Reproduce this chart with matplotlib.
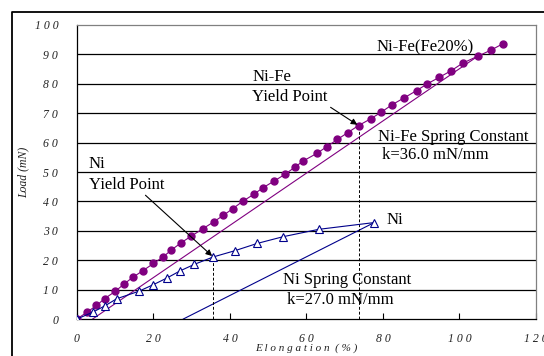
import matplotlib
matplotlib.use("Agg")
import matplotlib.pyplot as plt
from matplotlib.lines import Line2D

# Ni-Fe (Fe20%) load curve
nife_x = [0, 2.7, 5.1, 7.2, 10.0, 12.3, 14.6, 17.2, 20.0, 22.6, 24.7, 27.3, 29.9, 32.9,
          35.7, 38.3, 40.7, 43.3, 46.2, 48.7, 51.5, 54.5, 56.9, 59.2, 62.8, 65.3, 68.1,
          70.8, 73.6, 76.8, 79.6, 82.4, 85.5, 88.8, 91.6, 94.7, 97.9, 100.8, 104.8,
          108.3, 111.3]
nife_y = [0, 2.4, 4.6, 6.9, 9.4, 11.9, 14.2, 16.4, 18.9, 21.2, 23.5, 26.0, 28.2, 30.7,
          33.0, 35.3, 37.5, 40.0, 42.4, 44.7, 46.9, 49.3, 51.6, 53.8, 56.4, 58.6, 61.1,
          63.4, 65.8, 68.1, 70.4, 72.9, 75.2, 77.7, 80.0, 82.2, 84.5, 87.0, 89.4,
          91.5, 93.6]

# Ni load curve
ni_x = [0, 4.1, 7.2, 10.4, 16.1, 20.0, 23.6, 27.0, 30.7, 35.6, 41.2, 47.1, 53.9, 63.2, 77.7]
ni_y = [0, 2.3, 4.4, 6.9, 9.4, 11.7, 14.0, 16.4, 18.6, 21.1, 23.2, 25.7, 28.0, 30.5, 32.8]

# unloading (spring constant) lines
nife_spring_x = [4.1, 104.8]
nife_spring_y = [0, 89.4]
ni_spring_x = [27.8, 77.7]
ni_spring_y = [0, 32.8]

# yield points
nife_yield = (73.6, 65.8)
ni_yield = (35.6, 21.1)

x_ticks = [0, 20, 40, 60, 80, 100, 120]
y_ticks = [0, 10, 20, 30, 40, 50, 60, 70, 80, 90, 100]

purple = "#800080"
navy = "#00008b"
serif = ["Liberation Serif", "DejaVu Serif"]

fig = plt.figure(figsize=(5.44, 3.56), dpi=100)
ax = fig.add_axes([0.1415, 0.1039, 0.8438, 0.8259])

for v in y_ticks[1:-1]:
    ax.axhline(v, color="black", lw=0.9, zorder=1)

ax.plot(nife_spring_x, nife_spring_y, color=purple, lw=0.8, zorder=2)
ax.plot(ni_spring_x, ni_spring_y, color=navy, lw=0.8, zorder=2)

ax.plot(nife_x, nife_y, color=purple, lw=0.8, marker="o", ms=5,
        mfc=purple, mec=purple, zorder=3)
ax.plot(ni_x, ni_y, color=navy, lw=0.8, marker="^", ms=5.5,
        mfc="white", mec=navy, mew=0.8, zorder=3)

# dashed drop lines at the yield points
ax.plot([nife_yield[0]] * 2, [0, nife_yield[1]], color="black", lw=0.7,
        ls=(0, (3, 2)), zorder=2)
ax.plot([ni_yield[0]] * 2, [0, ni_yield[1]], color="black", lw=0.7,
        ls=(0, (3, 2)), zorder=2)

ax.set_xlim(0, 120)
ax.set_ylim(0, 100)
ax.set_xticks(x_ticks)
ax.set_yticks(y_ticks)
ax.set_xticklabels([" ".join(str(t)) for t in x_ticks], fontstyle="italic",
                   family=serif, fontsize=8.5, color="#222222")
ax.set_yticklabels([" ".join(str(t)) for t in y_ticks], fontstyle="italic",
                   family=serif, fontsize=8.5, color="#222222")
ax.tick_params(axis="x", direction="in", length=4, width=0.8, pad=10)
ax.tick_params(axis="y", length=0, pad=13.5)

ax.spines["left"].set_color("black")
ax.spines["bottom"].set_color("black")
ax.spines["right"].set_color("#808080")
ax.spines["top"].set_color("#808080")
for s in ax.spines.values():
    s.set_linewidth(0.9)

ax.set_xlabel("E l o n g a t i o n  ( % )", fontstyle="italic", family=serif,
              fontsize=8, labelpad=-1, color="#222222")
ax.set_ylabel("Load (mN)", fontstyle="italic", family=serif, fontsize=8.5,
              labelpad=4, color="#222222")

tk = dict(family=serif, fontsize=12, color="black")
ax.text(78.4, 92.5, "Ni-Fe(Fe20%)", va="center", **tk)
ax.text(45.8, 82.3, "Ni-Fe", va="center", **tk)
ax.text(45.8, 75.5, "Yield Point", va="center", **tk)
ax.text(78.7, 62.0, "Ni-Fe Spring Constant", va="center", **tk)
ax.text(79.7, 55.8, "k=36.0 mN/mm", va="center", **tk)
ax.text(2.9, 52.7, "Ni", va="center", **tk)
ax.text(3.1, 45.7, "Yield Point", va="center", **tk)
ax.text(81.0, 33.6, "Ni", va="center", **tk)
ax.text(53.9, 13.3, "Ni Spring Constant", va="center", **tk)
ax.text(55.0, 6.5, "k=27.0 mN/mm", va="center", **tk)

arrow = dict(arrowstyle="-|>", color="black", lw=0.8, mutation_scale=9,
             shrinkA=0, shrinkB=1)
ax.annotate("", xy=nife_yield, xytext=(66.3, 72.0), arrowprops=arrow)
ax.annotate("", xy=ni_yield, xytext=(17.9, 42.1), arrowprops=arrow)

# outer frame around the chart (runs off the right and bottom edges)
fig.add_artist(Line2D([12 / 544, 12 / 544, 1.05], [-0.05, 1 - 12 / 356, 1 - 12 / 356],
                      color="black", lw=1.3, transform=fig.transFigure))

fig.savefig("out.png", dpi=100)
